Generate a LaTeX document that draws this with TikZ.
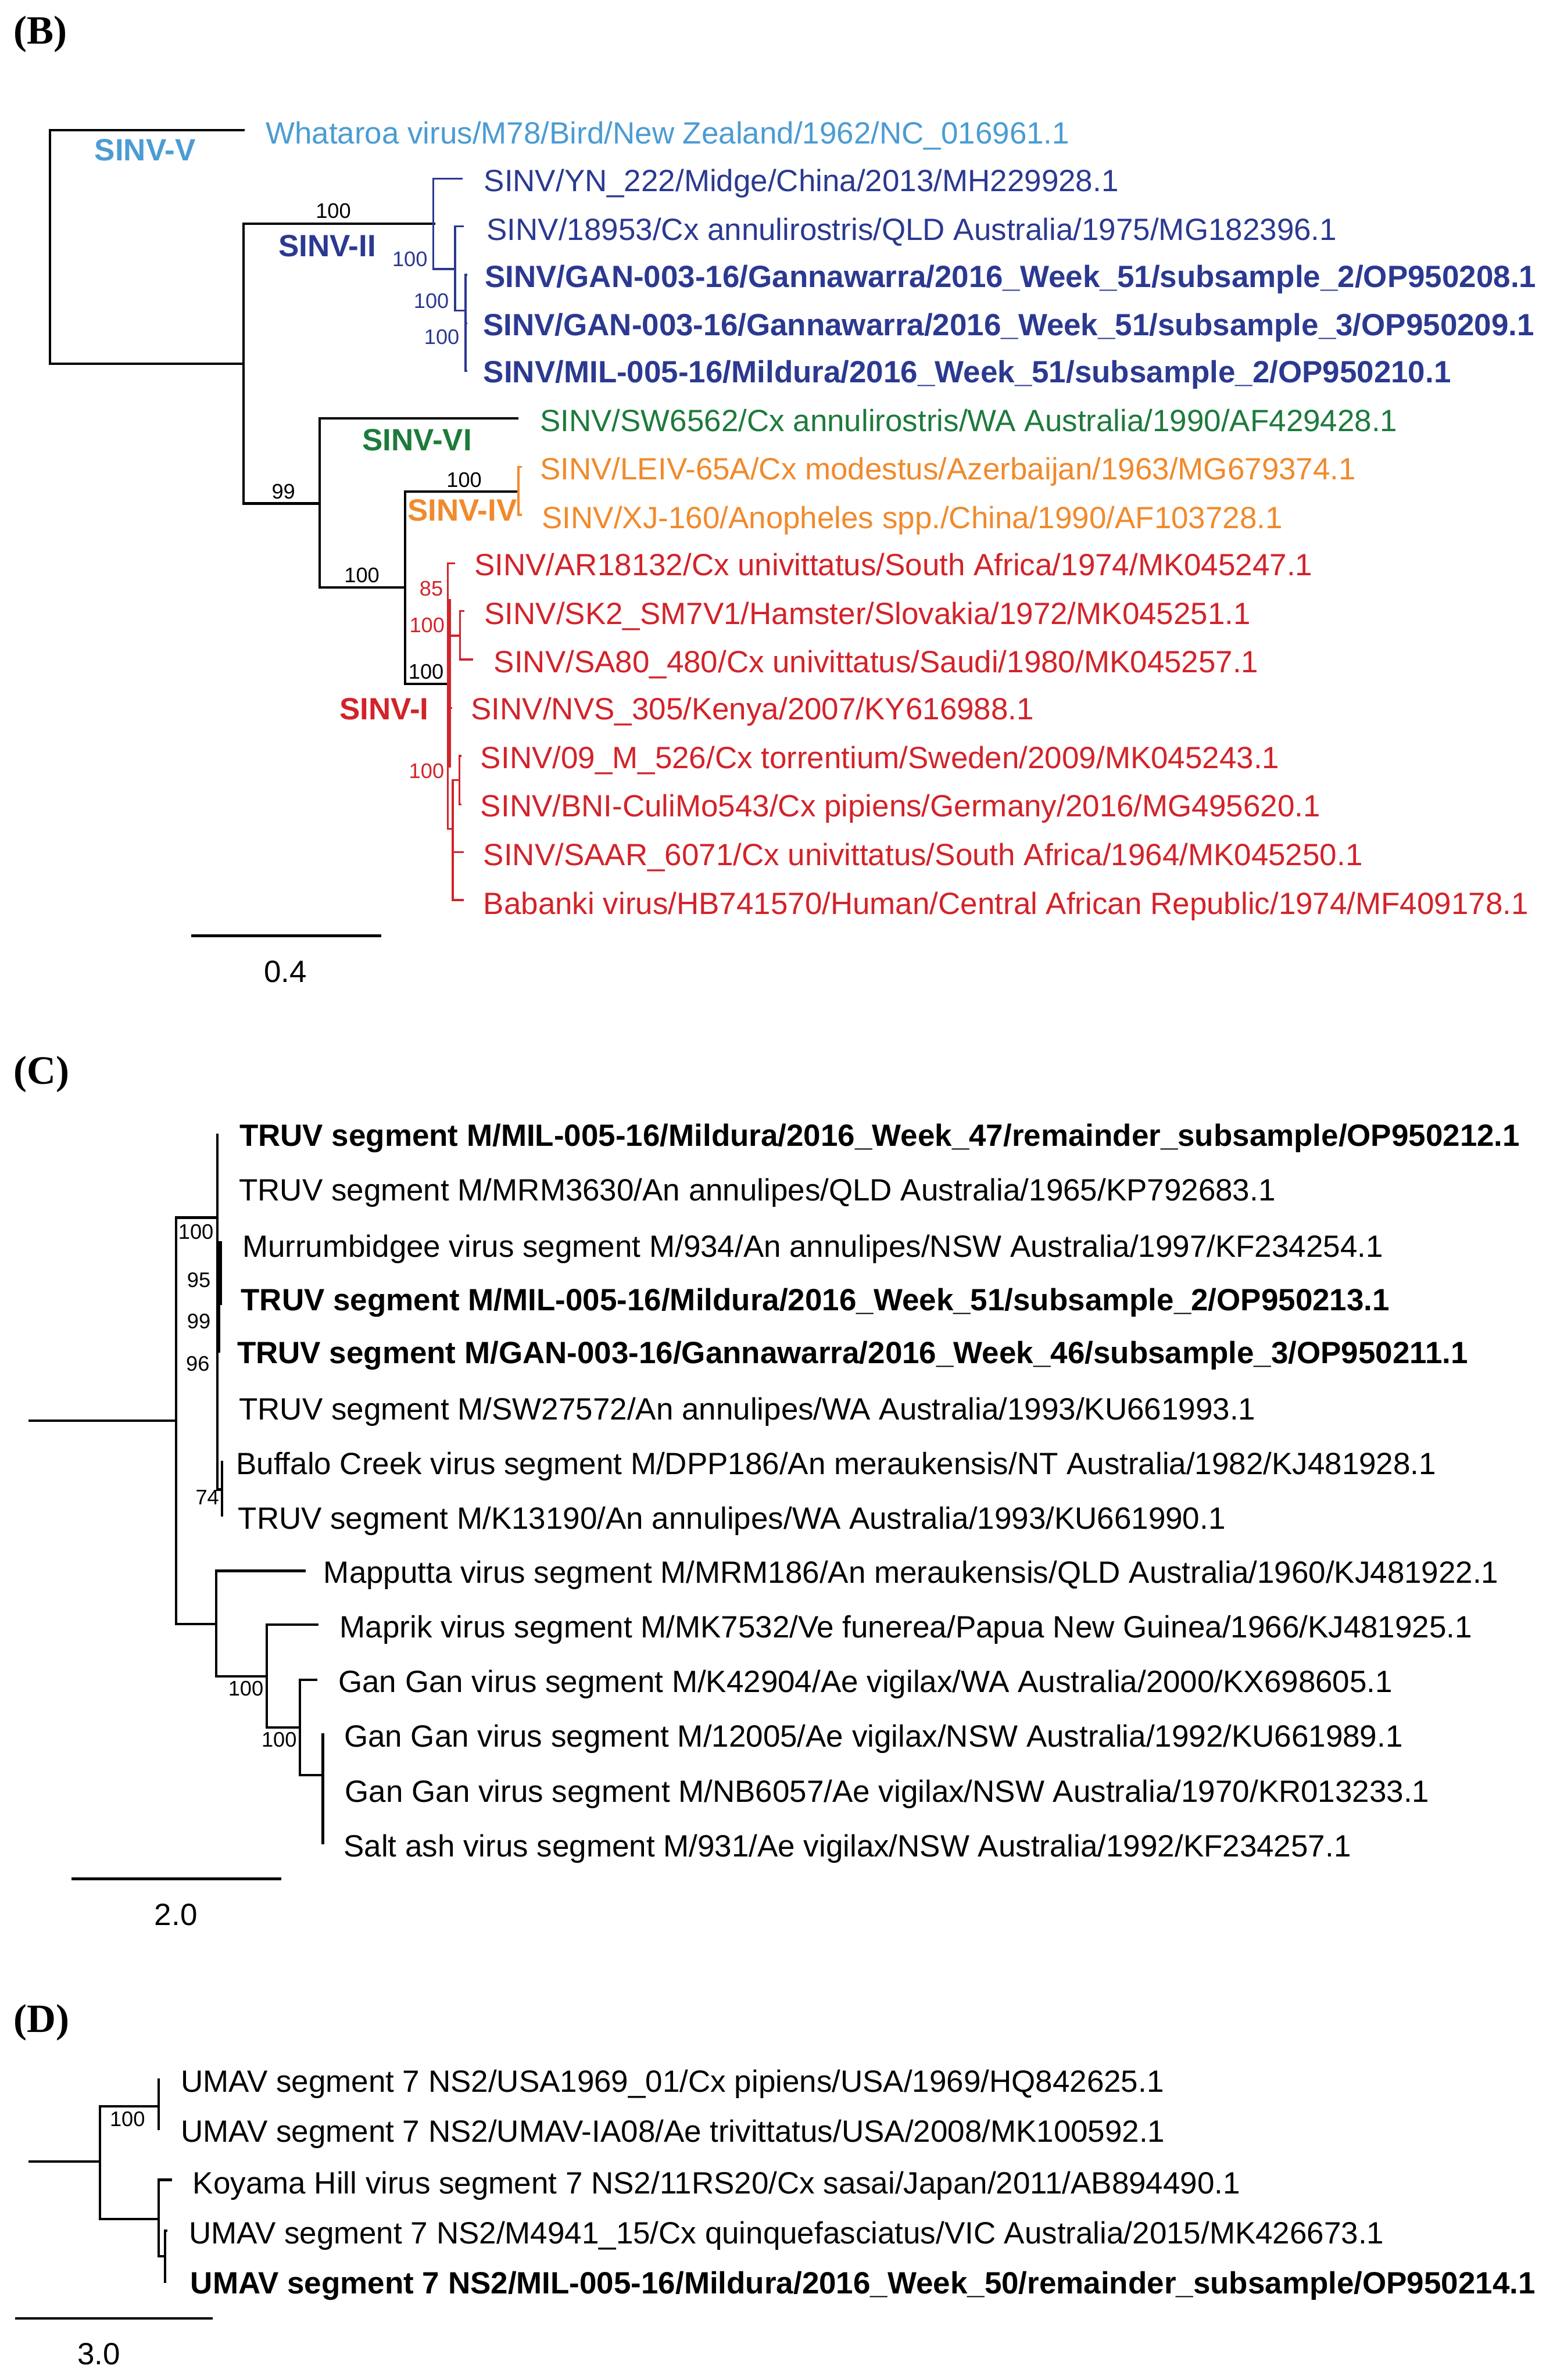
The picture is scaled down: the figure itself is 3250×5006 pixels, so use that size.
\documentclass[tikz,border=0pt]{standalone}
\usepackage{fontspec}
\setmainfont{Liberation Sans}
\newfontfamily\panelfont{Liberation Serif}
\usepackage{xcolor}
\usepackage{tikz}
\definecolor{sinvfive}{HTML}{4B9CD3}
\definecolor{sinvtwo}{HTML}{2B3990}
\definecolor{sinvsix}{HTML}{1D7A3C}
\definecolor{sinvfour}{HTML}{F08A2C}
\definecolor{sinvone}{HTML}{D2232A}

\tikzset{
  br/.style={line width=1.45pt},
  cbr/.style={line width=1.15pt},
  tiplabel/.style={anchor=base west, inner sep=0pt, font=\fontsize{18.4pt}{22pt}\selectfont},
  boldtip/.style={tiplabel, font=\fontsize{18.4pt}{22pt}\selectfont\bfseries},
  clade/.style={inner sep=0pt, font=\fontsize{18.4pt}{22pt}\selectfont\bfseries},
  boot/.style={inner sep=0pt, font=\fontsize{12.6pt}{15pt}\selectfont},
  panel/.style={anchor=west, inner sep=0pt, font=\fontsize{24pt}{28pt}\panelfont\bfseries},
  scalelab/.style={anchor=base, inner sep=0pt, font=\fontsize{18.4pt}{22pt}\selectfont}
}

\begin{document}
\begin{tikzpicture}[x=0.01cm, y=-0.01cm]
    \useasboundingbox (0,0) rectangle (3250,5006);

    % ---------------- (B) ----------------
    \node[panel] (labB) at (28,72) {(B)};

    \draw[br] (515,274) -| (105,765) -- (512,765);
    \draw[br] (916,471) -| (512,1059) -- (672,1059);
    \draw[br] (1090,880) -| (672,1236) -- (852,1236);
    \draw[br] (1090,1034) -| (852,1438) -- (942,1438);

    \draw[cbr, sinvtwo] (973,376) -| (911,566) -- (957,566);
    \draw[cbr, sinvtwo] (975,476) -| (957,653) -- (979,653);
    \draw[cbr, sinvtwo] (983,578) -| (979,780) -- (983,780);
    \draw[cbr, sinvtwo] (979,680) -- (982,680);

    \draw[cbr, sinvfour] (1098,982) -| (1090,1083) -- (1098,1083);

    \draw[cbr, sinvone] (957,1185) -| (942,1743) -- (952,1743);
    \draw[cbr, sinvone] (946,1260) -- (946,1615);
    \draw[cbr, sinvone] (946,1337) -- (967,1337);
    \draw[cbr, sinvone] (976,1285) -| (967,1387) -- (995,1387);
    \draw[cbr, sinvone] (946,1489) -- (951,1489);
    \draw[cbr, sinvone] (970,1590) -| (966,1692) -- (970,1692);
    \draw[cbr, sinvone] (966,1641) -| (952,1893) -- (975,1893);
    \draw[cbr, sinvone] (952,1792) -- (975,1792);

    \node[clade, text=sinvfive] (cV) at (305,316) {SINV-V};
    \node[clade, text=sinvtwo] (cII) at (688,517) {SINV-II};
    \node[clade, text=sinvsix] (cVI) at (877,925) {SINV-VI};
    \node[clade, text=sinvfour] (cIV) at (972,1073) {SINV-IV};
    \node[clade, text=sinvone] (cI) at (808,1491) {SINV-I};

    \node[boot] (bsB1) at (701,444) {100};
    \node[boot, text=sinvtwo] (bsB2) at (862,545) {100};
    \node[boot, text=sinvtwo] (bsB3) at (907,633) {100};
    \node[boot, text=sinvtwo] (bsB4) at (929,709) {100};
    \node[boot] (bsB5) at (596,1034) {99};
    \node[boot] (bsB6) at (976,1010) {100};
    \node[boot] (bsB7) at (761,1210) {100};
    \node[boot, text=sinvone] (bsB8) at (907,1238) {85};
    \node[boot, text=sinvone] (bsB9) at (898,1315) {100};
    \node[boot] (bsB10) at (896,1413) {100};
    \node[boot, text=sinvone] (bsB11) at (897,1622) {100};

    \node[tiplabel, text=sinvfive] (b1) at (558,302) {Whataroa virus/M78/Bird/New Zealand/1962/NC\_016961.1};
    \node[tiplabel, text=sinvtwo] (b2) at (1017,403) {SINV/YN\_222/Midge/China/2013/MH229928.1};
    \node[tiplabel, text=sinvtwo] (b3) at (1023,505) {SINV/18953/Cx annulirostris/QLD Australia/1975/MG182396.1};
    \node[boldtip, text=sinvtwo] (b4) at (1019,604) {SINV/GAN-003-16/Gannawarra/2016\_Week\_51/subsample\_2/OP950208.1};
    \node[boldtip, text=sinvtwo] (b5) at (1015,706) {SINV/GAN-003-16/Gannawarra/2016\_Week\_51/subsample\_3/OP950209.1};
    \node[boldtip, text=sinvtwo] (b6) at (1016,805) {SINV/MIL-005-16/Mildura/2016\_Week\_51/subsample\_2/OP950210.1};
    \node[tiplabel, text=sinvsix] (b7) at (1135,907) {SINV/SW6562/Cx annulirostris/WA Australia/1990/AF429428.1};
    \node[tiplabel, text=sinvfour] (b8) at (1135,1009) {SINV/LEIV-65A/Cx modestus/Azerbaijan/1963/MG679374.1};
    \node[tiplabel, text=sinvfour] (b9) at (1139,1112) {SINV/XJ-160/Anopheles spp./China/1990/AF103728.1};
    \node[tiplabel, text=sinvone] (b10) at (997,1211) {SINV/AR18132/Cx univittatus/South Africa/1974/MK045247.1};
    \node[tiplabel, text=sinvone] (b11) at (1018,1313) {SINV/SK2\_SM7V1/Hamster/Slovakia/1972/MK045251.1};
    \node[tiplabel, text=sinvone] (b12) at (1038,1415) {SINV/SA80\_480/Cx univittatus/Saudi/1980/MK045257.1};
    \node[tiplabel, text=sinvone] (b13) at (990,1514) {SINV/NVS\_305/Kenya/2007/KY616988.1};
    \node[tiplabel, text=sinvone] (b14) at (1010,1616) {SINV/09\_M\_526/Cx torrentium/Sweden/2009/MK045243.1};
    \node[tiplabel, text=sinvone] (b15) at (1010,1718) {SINV/BNI-CuliMo543/Cx pipiens/Germany/2016/MG495620.1};
    \node[tiplabel, text=sinvone] (b16) at (1016,1820) {SINV/SAAR\_6071/Cx univittatus/South Africa/1964/MK045250.1};
    \node[tiplabel, text=sinvone] (b17) at (1016,1923) {Babanki virus/HB741570/Human/Central African Republic/1974/MF409178.1};

    \draw[line width=1.7pt] (402,1968) -- (802,1968);
    \node[scalelab] (sB) at (600,2066) {0.4};

    % ---------------- (C) ----------------
    \node[panel] (labC) at (28,2260) {(C)};

    \draw[br] (60,2988) -- (370,2988);
    \draw[br] (457,2561) -| (370,3416) -- (455,3416);
    \draw[br] (457,2384) -- (457,3133) -- (467,3133);
    \draw[br] (461,2611) -- (461,2845);
    \draw[br] (464,2611) -- (464,2745);
    \draw[br] (467,3073) -- (467,3190);
    \draw[br] (643,3304) -| (455,3526) -- (561,3526);
    \draw[br] (670,3417) -| (561,3633) -- (631,3633);
    \draw[br] (667,3533) -| (631,3734) -- (679,3734);
    \draw[br] (679,3646) -- (679,3879);

    \node[boot] (bsC1) at (412,2591) {100};
    \node[boot] (bsC2) at (418,2693) {95};
    \node[boot] (bsC3) at (418,2779) {99};
    \node[boot] (bsC4) at (416,2869) {96};
    \node[boot] (bsC5) at (436,3150) {74};
    \node[boot] (bsC6) at (517,3552) {100};
    \node[boot] (bsC7) at (587,3659) {100};

    \node[boldtip] (c1) at (503,2411) {TRUV segment M/MIL-005-16/Mildura/2016\_Week\_47/remainder\_subsample/OP950212.1};
    \node[tiplabel] (c2) at (502,2526) {TRUV segment M/MRM3630/An annulipes/QLD Australia/1965/KP792683.1};
    \node[tiplabel] (c3) at (509,2644) {Murrumbidgee virus segment M/934/An annulipes/NSW Australia/1997/KF234254.1};
    \node[boldtip] (c4) at (506,2756) {TRUV segment M/MIL-005-16/Mildura/2016\_Week\_51/subsample\_2/OP950213.1};
    \node[boldtip] (c5) at (498,2868) {TRUV segment M/GAN-003-16/Gannawarra/2016\_Week\_46/subsample\_3/OP950211.1};
    \node[tiplabel] (c6) at (502,2986) {TRUV segment M/SW27572/An annulipes/WA Australia/1993/KU661993.1};
    \node[tiplabel] (c7) at (496,3101) {Buffalo Creek virus segment M/DPP186/An meraukensis/NT Australia/1982/KJ481928.1};
    \node[tiplabel] (c8) at (500,3216) {TRUV segment M/K13190/An annulipes/WA Australia/1993/KU661990.1};
    \node[tiplabel] (c9) at (680,3330) {Mapputta virus segment M/MRM186/An meraukensis/QLD Australia/1960/KJ481922.1};
    \node[tiplabel] (c10) at (714,3445) {Maprik virus segment M/MK7532/Ve funerea/Papua New Guinea/1966/KJ481925.1};
    \node[tiplabel] (c11) at (711,3560) {Gan Gan virus segment M/K42904/Ae vigilax/WA Australia/2000/KX698605.1};
    \node[tiplabel] (c12) at (723,3675) {Gan Gan virus segment M/12005/Ae vigilax/NSW Australia/1992/KU661989.1};
    \node[tiplabel] (c13) at (725,3790) {Gan Gan virus segment M/NB6057/Ae vigilax/NSW Australia/1970/KR013233.1};
    \node[tiplabel] (c14) at (722,3905) {Salt ash virus segment M/931/Ae vigilax/NSW Australia/1992/KF234257.1};

    \draw[line width=1.6pt] (150,3952) -- (591,3952);
    \node[scalelab] (sC) at (370,4049) {2.0};

    % ---------------- (D) ----------------
    \node[panel] (labD) at (28,4254) {(D)};

    \draw[br] (60,4546) -- (210,4546);
    \draw[br] (334,4430) -| (210,4667) -- (334,4667);
    \draw[br] (334,4372) -- (334,4481);
    \draw[br] (362,4585) -| (334,4746) -- (347,4746);
    \draw[br] (352,4692) -| (347,4802);

    \node[boot] (bsD1) at (268,4457) {100};

    \node[tiplabel] (d1) at (380,4400) {UMAV segment 7 NS2/USA1969\_01/Cx pipiens/USA/1969/HQ842625.1};
    \node[tiplabel] (d2) at (380,4505) {UMAV segment 7 NS2/UMAV-IA08/Ae trivittatus/USA/2008/MK100592.1};
    \node[tiplabel] (d3) at (405,4614) {Koyama Hill virus segment 7 NS2/11RS20/Cx sasai/Japan/2011/AB894490.1};
    \node[tiplabel] (d4) at (397,4719) {UMAV segment 7 NS2/M4941\_15/Cx quinquefasciatus/VIC Australia/2015/MK426673.1};
    \node[boldtip] (d5) at (400,4825) {UMAV segment 7 NS2/MIL-005-16/Mildura/2016\_Week\_50/remainder\_subsample/OP950214.1};

    \draw[line width=1.5pt] (32,4876) -- (447,4876);
    \node[scalelab] (sD) at (208,4974) {3.0};
\end{tikzpicture}
\end{document}
